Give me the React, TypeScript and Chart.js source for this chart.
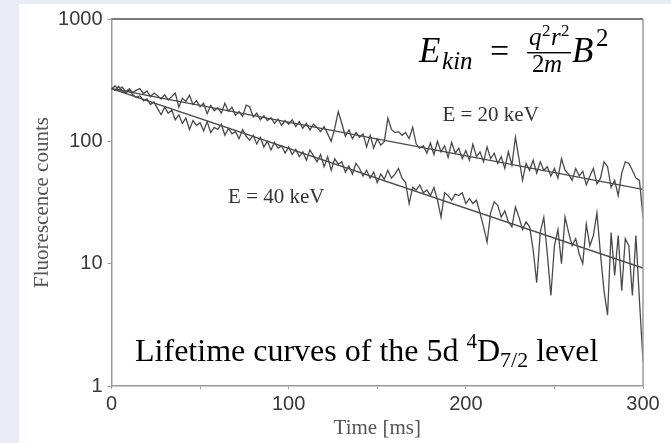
import React, { useEffect, useRef } from 'react';
import { Chart, registerables } from 'chart.js';

Chart.register(...registerables);

// ---------- data ----------
const TIME_STEP_MS = 2;

const counts20keV = [
  265, 285, 262, 278, 255, 268, 250, 262, 270, 245,
  258, 232, 248, 236, 222, 240, 218, 232, 248, 190,
  225, 212, 238, 200, 215, 192, 205, 168, 196, 178,
  188, 170, 205, 176, 190, 163, 175, 160, 198, 192,
  158, 170, 150, 162, 148, 156, 140, 152, 135, 148,
  138, 150, 132, 145, 128, 140, 124, 138, 130, 120,
  132, 115, 100, 128, 175, 140, 110, 124, 105, 118,
  108, 115, 90, 112, 88, 105, 93, 100, 155, 125,
  118, 120, 112, 118, 105, 130, 95, 88, 92, 80,
  97, 78, 100, 82, 92, 74, 98, 80, 88, 72,
  84, 70, 95, 75, 82, 68, 90, 72, 80, 66,
  75, 60, 82, 64, 108, 72, 48, 66, 58, 70,
  55, 68, 58, 62, 52, 60, 50, 72, 58, 54,
  48, 60, 52, 57, 44, 52, 60, 45, 50, 68,
  62, 42, 48, 36, 55, 68, 66, 58, 50, 48,
  24,
];

const counts40keV = [
  275, 260, 282, 258, 250, 262, 240, 228, 236, 215,
  222, 200, 210, 185, 165, 190, 170, 180, 150, 165,
  140, 155, 125, 148, 135, 142, 122, 145, 118, 130,
  125, 138, 112, 128, 115, 120, 105, 125, 110, 102,
  112, 95, 108, 90, 100, 85, 98, 88, 92, 80,
  90, 78, 86, 75, 82, 70, 85, 76, 68, 78,
  62, 75, 58, 72, 65, 68, 56, 63, 54, 66,
  60, 52, 58, 50, 56, 46, 54, 49, 58, 50,
  54, 60, 50, 46, 31, 42, 40, 44, 38, 40,
  36, 42, 33, 24, 38, 36, 33, 37, 36, 38,
  31, 34, 31, 33, 26, 20, 15, 26, 32, 30,
  24, 27, 22, 20, 29, 24, 19, 22, 20, 13,
  7, 18, 24, 12, 5.5, 14, 19, 10, 24, 18,
  14, 16, 12, 10, 21, 14, 17, 26, 12, 6,
  3.8, 18, 8, 17, 6, 16, 14, 5.5, 17, 5,
  1.6,
];

const fitTimes = [0, 300];
const fit20keV = [270, 40.5];
const fit40keV = [270, 9.2];

const xTickValues = [0, 50, 100, 150, 200, 250, 300];
const xTickLabels = [0, 100, 200, 300];
const yTickValues = [1, 10, 100, 1000];

const xTitle = 'Time [ms]';
const yTitle = 'Fluorescence counts';

// annotation anchors (data coordinates)
const energyLabels = ['E = 20 keV', 'E = 40 keV'];
const energyLabelTimes = [214, 93];
const energyLabelCounts = [164, 35];
const formulaAnchor = { t: 173.6, count: 445 };
const captionAnchor = { t: 13.3, count: 1.6 };

// ---------- styles ----------
const SANS = '"Liberation Sans", Arial, Helvetica, sans-serif';
const SERIF = '"Liberation Serif", "Times New Roman", Times, serif';
const LINE_COLOR = '#4a4a4a';
const AXIS_COLOR = '#9a9a9a';

const backgroundPlugin = {
  id: 'pageBackground',
  beforeDraw(chart: any) {
    const { ctx, width, height } = chart;
    ctx.save();
    ctx.fillStyle = '#e8edf5';
    ctx.fillRect(0, 0, width, height);
    ctx.fillStyle = '#ffffff';
    ctx.fillRect(19, 4, width - 19, height - 4);
    ctx.restore();
  },
};

const framePlugin = {
  id: 'frame',
  afterDatasetsDraw(chart: any) {
    const { ctx, chartArea } = chart;
    ctx.save();
    ctx.strokeStyle = '#7a7a7a';
    ctx.lineWidth = 2;
    ctx.beginPath();
    ctx.moveTo(chartArea.left, chartArea.top);
    ctx.lineTo(chartArea.right, chartArea.top);
    ctx.stroke();
    ctx.strokeStyle = AXIS_COLOR;
    ctx.lineWidth = 1.5;
    ctx.beginPath();
    ctx.moveTo(chartArea.right, chartArea.top);
    ctx.lineTo(chartArea.right, chartArea.bottom);
    ctx.stroke();
    ctx.restore();
  },
};

const annotationPlugin = {
  id: 'annotations',
  afterDraw(chart: any) {
    const { ctx, scales } = chart;
    const xs = scales.x;
    const ys = scales.y;
    ctx.save();

    // energy labels
    ctx.fillStyle = '#333333';
    ctx.textAlign = 'center';
    ctx.textBaseline = 'middle';
    ctx.font = `21px ${SERIF}`;
    energyLabels.forEach((txt, i) => {
      ctx.fillText(txt, xs.getPixelForValue(energyLabelTimes[i]), ys.getPixelForValue(energyLabelCounts[i]));
    });

    // formula E_kin = q^2 r^2 / 2m B^2
    ctx.textAlign = 'left';
    ctx.textBaseline = 'alphabetic';
    ctx.fillStyle = '#000000';
    const fx = xs.getPixelForValue(formulaAnchor.t);
    const fy = ys.getPixelForValue(formulaAnchor.count);
    ctx.font = `italic 35px ${SERIF}`;
    ctx.fillText('E', fx, fy);
    ctx.font = `italic 25px ${SERIF}`;
    ctx.fillText('kin', fx + 23, fy + 7);
    ctx.font = `34px ${SERIF}`;
    ctx.fillText('=', fx + 71, fy);
    ctx.font = `italic 25px ${SERIF}`;
    ctx.fillText('q', fx + 110, fy - 17);
    ctx.font = `17px ${SERIF}`;
    ctx.fillText('2', fx + 123, fy - 26);
    ctx.font = `italic 25px ${SERIF}`;
    ctx.fillText('r', fx + 132, fy - 17);
    ctx.font = `17px ${SERIF}`;
    ctx.fillText('2', fx + 142, fy - 26);
    ctx.fillRect(fx + 108, fy - 10, 44, 1.4);
    ctx.font = `25px ${SERIF}`;
    ctx.fillText('2', fx + 113, fy + 10);
    ctx.font = `italic 25px ${SERIF}`;
    ctx.fillText('m', fx + 125, fy + 10);
    ctx.font = `italic 35px ${SERIF}`;
    ctx.fillText('B', fx + 153, fy);
    ctx.font = `25px ${SERIF}`;
    ctx.fillText('2', fx + 177, fy - 16);

    // caption
    let cx = xs.getPixelForValue(captionAnchor.t);
    const cy = ys.getPixelForValue(captionAnchor.count);
    const parts: [string, number, number][] = [
      ['Lifetime curves of the 5d ', 32, 0],
      ['4', 21, -13],
      ['D', 32, 0],
      ['7/2', 22, 6],
      [' level', 32, 0],
    ];
    parts.forEach(([txt, size, dy]) => {
      ctx.font = `${size}px ${SERIF}`;
      ctx.fillText(txt, cx, cy + dy);
      cx += ctx.measureText(txt).width;
    });
    ctx.restore();
  },
};

export default function App() {
  const canvasRef = useRef<HTMLCanvasElement | null>(null);

  useEffect(() => {
    if (!canvasRef.current) return;
    const toPoints = (arr: number[]) => arr.map((v, i) => ({ x: i * TIME_STEP_MS, y: v }));
    const fitPoints = (arr: number[]) => arr.map((v, i) => ({ x: fitTimes[i], y: v }));
    const lineDs = (data: any[], width: number) => ({
      data,
      borderColor: LINE_COLOR,
      borderWidth: width,
      pointRadius: 0,
      tension: 0,
      fill: false,
    });

    const chart = new Chart(canvasRef.current, {
      type: 'line',
      data: {
        datasets: [
          lineDs(toPoints(counts20keV), 1.3),
          lineDs(toPoints(counts40keV), 1.3),
          lineDs(fitPoints(fit20keV), 1.4),
          lineDs(fitPoints(fit40keV), 1.4),
        ],
      },
      options: {
        animation: false,
        responsive: true,
        maintainAspectRatio: false,
        layout: { padding: { left: 0, top: 19, right: 28, bottom: 0 } },
        plugins: {
          legend: { display: false },
          tooltip: { enabled: false },
        },
        scales: {
          x: {
            type: 'linear',
            min: 0,
            max: 300,
            afterBuildTicks: (s: any) => {
              s.ticks = xTickValues.map((v) => ({ value: v }));
            },
            afterFit: (s: any) => {
              s.height = 57;
            },
            ticks: {
              autoSkip: false,
              maxRotation: 0,
              padding: 3,
              color: '#383838',
              font: { family: SANS, size: 20 },
              callback: (v: any) => (xTickLabels.includes(Number(v)) ? String(v) : ''),
            },
            grid: { display: true, drawOnChartArea: false, drawTicks: true, tickLength: 3, color: AXIS_COLOR },
            border: { display: true, color: AXIS_COLOR, width: 1.5 },
            title: {
              display: true,
              text: xTitle,
              color: '#555555',
              font: { family: SERIF, size: 21 },
              padding: { top: 0, bottom: 2 },
            },
          },
          y: {
            type: 'logarithmic',
            min: 1,
            max: 1000,
            afterBuildTicks: (s: any) => {
              s.ticks = yTickValues.map((v) => ({ value: v }));
            },
            afterFit: (s: any) => {
              s.width = 111.5;
            },
            ticks: {
              padding: 5,
              color: '#383838',
              font: { family: SANS, size: 20 },
              callback: (v: any) => String(v),
            },
            grid: { display: true, drawOnChartArea: false, drawTicks: true, tickLength: 4, color: AXIS_COLOR },
            border: { display: true, color: AXIS_COLOR, width: 1.5 },
            title: {
              display: true,
              text: yTitle,
              color: '#555555',
              font: { family: SERIF, size: 21 },
              padding: { top: 30, bottom: 0 },
            },
          },
        },
      } as any,
      plugins: [backgroundPlugin, framePlugin, annotationPlugin],
    });
    return () => chart.destroy();
  }, []);

  return (
    <div style={{ position: 'absolute', left: 0, top: 0, width: 671, height: 443 }}>
      <canvas ref={canvasRef} />
    </div>
  );
}
